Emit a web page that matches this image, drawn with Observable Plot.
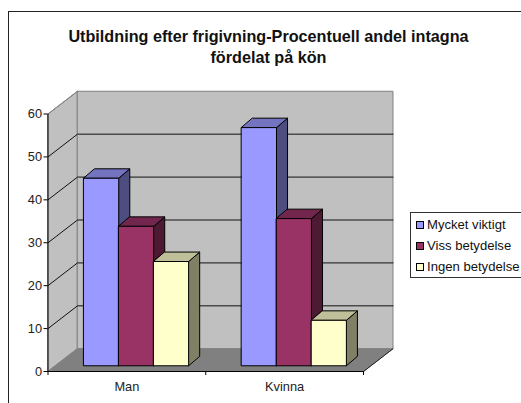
<!DOCTYPE html>
<html lang="sv">
<head>
<meta charset="utf-8">
<script src="https://cdn.jsdelivr.net/npm/d3@7"></script>
<script src="https://cdn.jsdelivr.net/npm/@observablehq/plot@0.6"></script>
<style>
  html, body { margin: 0; padding: 0; background: #fff; overflow: hidden; }
  #page { position: relative; width: 521px; height: 403px; overflow: hidden; font-family: "Liberation Sans", Arial, sans-serif; color: #111; }
  #frame { position: absolute; left: 8px; top: 11px; width: 530px; height: 420px; border: 1.5px solid #222; box-sizing: border-box; pointer-events: none; }
  #title { height: 75px; box-sizing: border-box; padding-top: 26px; padding-left: 16px; text-align: center; font-weight: bold; font-size: 16.2px; line-height: 20.5px; }
  #chart svg { display: block; }
  #legend { position: absolute; left: 410px; top: 212px; width: 120px; height: 66px; box-sizing: border-box; border: 1px solid #333; background: #fff; font-size: 13.1px; padding-top: 1px; }
  .row { height: 21px; line-height: 21px; white-space: nowrap; padding-left: 5px; }
  .sw { display: inline-block; width: 6px; height: 6px; border: 1px solid #000; margin-right: 3px; vertical-align: 0px; }
</style>
</head>
<body>
<div id="page">
  <div id="title">Utbildning efter frigivning-Procentuell andel intagna<br>fördelat på kön</div>
  <div id="chart"></div>
  <div id="legend"></div>
  <div id="frame"></div>
</div>
<script>
const categories = ["Man", "Kvinna"];
const seriesNames = ["Mycket viktigt", "Viss betydelse", "Ingen betydelse"];
const mycketViktigt = [43.7, 55.5];
const vissBetydelse = [32.5, 34.3];
const ingenBetydelse = [24.3, 10.6];
const seriesValues = [mycketViktigt, vissBetydelse, ingenBetydelse];
const yTicks = [0, 10, 20, 30, 40, 50, 60];
const frontColors = ["#9999ff", "#993366", "#ffffcc"];
const topColors = ["#7373bf", "#73264d", "#bfbf99"];
const sideColors = ["#4d4d80", "#4d1a33", "#808066"];

// oblique-projection depth, in data units
const wallDX = 0.187, wallDY = 5.3;
const barDX = 0.07, barDY = 2.2;
const barBase = 1.33, barStart = 0.227, barW = 0.2215;

const P = (pts) => pts.map(([x, y]) => ({x, y}));
const poly = (pts, fill, stroke, strokeWidth = 1) =>
  Plot.line(P(pts), {x: "x", y: "y", fill, stroke, strokeWidth, curve: "linear-closed", strokeLinejoin: "miter", strokeMiterlimit: 10});
const seg = (pts, stroke) =>
  Plot.line(P(pts), {x: "x", y: "y", stroke, strokeWidth: 1});

const nCat = categories.length;
const yMax = 60;
const gridVals = yTicks.filter(v => v > 0 && v < yMax);

const marks = [
  // walls and floor
  poly([[0, 0], [wallDX, wallDY], [wallDX, yMax + wallDY], [0, yMax]], "#c0c0c0", "#808080"),
  poly([[wallDX, wallDY], [nCat + wallDX, wallDY], [nCat + wallDX, yMax + wallDY], [wallDX, yMax + wallDY]], "#c0c0c0", "#808080"),
  poly([[0, 0], [nCat, 0], [nCat + wallDX, wallDY], [wallDX, wallDY]], "#808080", "#808080"),
  // gridlines
  ...gridVals.map(v => seg([[0, v], [wallDX, v + wallDY], [nCat + wallDX, v + wallDY]], "#111")),
  seg([[0, yMax], [wallDX, yMax + wallDY]], "#808080"),
  seg([[nCat, 0], [nCat + wallDX, wallDY]], "#222")
];

// bars
categories.forEach((c, i) => {
  seriesValues.forEach((vals, j) => {
    const x0 = i + barStart + j * barW, x1 = x0 + barW;
    const y0 = barBase, y1 = barBase + vals[i];
    marks.push(
      poly([[x1, y0], [x1 + barDX, y0 + barDY], [x1 + barDX, y1 + barDY], [x1, y1]], sideColors[j], "#000"),
      poly([[x0, y1], [x1, y1], [x1 + barDX, y1 + barDY], [x0 + barDX, y1 + barDY]], topColors[j], "#000"),
      poly([[x0, y0], [x1, y0], [x1, y1], [x0, y1]], frontColors[j], "#000")
    );
  });
});

marks.push(
  Plot.ruleY([0], {stroke: "#000", strokeWidth: 1}),
  Plot.ruleX([0], {y1: 0, y2: yMax, stroke: "#000", strokeWidth: 1}),
  Plot.axisY({ticks: yTicks, tickSize: 4, tickPadding: 2, label: null, fontSize: 12.8, color: "#222", stroke: "#000"}),
  Plot.axisX({ticks: d3.range(nCat + 1), tickSize: 4, tickFormat: () => "", label: null, stroke: "#000"}),
  Plot.text(categories, {x: (d, i) => i + 0.5, y: 0, text: d => d, dy: 15, fontSize: 12.8, fill: "#222"})
);

const chart = Plot.plot({
  width: 521,
  height: 328,
  marginLeft: 47.5,
  marginRight: 158,
  marginBottom: 32,
  marginTop: 5,
  style: {fontFamily: "'Liberation Sans', Arial, sans-serif", background: "transparent", overflow: "visible"},
  x: {type: "linear", domain: [0, nCat], range: [47.5, 363]},
  y: {type: "linear", domain: [0, yMax], range: [296, 38.5]},
  marks
});
document.getElementById("chart").appendChild(chart);

const legend = document.getElementById("legend");
seriesNames.forEach((name, j) => {
  const row = document.createElement("div");
  row.className = "row";
  const sw = document.createElement("span");
  sw.className = "sw";
  sw.style.background = frontColors[j];
  row.appendChild(sw);
  row.appendChild(document.createTextNode(name));
  legend.appendChild(row);
});
</script>
</body>
</html>
